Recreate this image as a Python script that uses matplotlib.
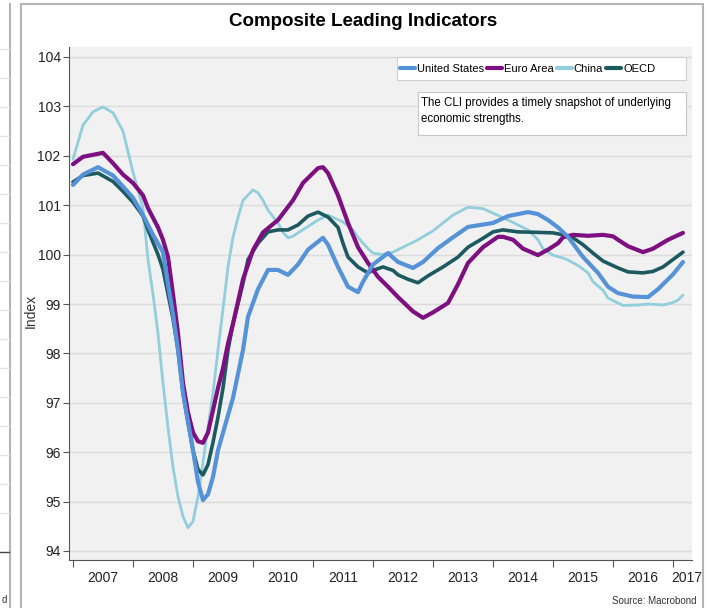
import matplotlib
matplotlib.use('Agg')
import matplotlib.pyplot as plt
from matplotlib.lines import Line2D
from matplotlib.patches import Rectangle

# Composite Leading Indicators
# months are counted from January 2007
us_months = [0, 2, 5, 8, 10, 12, 14, 16, 18, 19, 20, 21, 22, 24, 25, 26, 27, 28, 29, 32,
             34, 35, 37, 39, 41, 43, 45, 47, 50, 51, 53, 55, 57, 58, 60, 63, 65, 68, 70, 73,
             76, 79, 84, 87, 91, 93, 95, 97, 99, 102, 105, 107, 109, 112, 115, 117, 120, 122]
us_values = [101.41, 101.62, 101.77, 101.60, 101.38, 101.15, 100.80, 100.40, 100.05, 99.40,
             98.80, 98.07, 97.20, 96.04, 95.40, 95.03, 95.15, 95.50, 96.04, 97.10,
             98.07, 98.74, 99.30, 99.69, 99.69, 99.59, 99.80, 100.10, 100.34, 100.20,
             99.75, 99.35, 99.24, 99.45, 99.80, 100.03, 99.85, 99.73, 99.85, 100.13,
             100.35, 100.56, 100.64, 100.78, 100.86, 100.82, 100.70, 100.55, 100.36, 99.95,
             99.63, 99.35, 99.22, 99.15, 99.14, 99.30, 99.60, 99.85]

euro_months = [0, 2, 6, 8, 10, 12, 14, 15, 17, 18, 19, 20, 21, 22, 23, 24, 25, 26, 27, 28, 29,
               30, 31, 32, 34, 36, 38, 41, 44, 46, 49, 50, 51, 53, 55, 57, 59, 61, 63, 65, 68,
               70, 72, 75, 77, 79, 82, 85, 86, 88, 90, 93, 95, 97, 98, 100, 103, 106, 108, 109,
               111, 114, 116, 119, 122]
euro_values = [101.83, 101.98, 102.06, 101.85, 101.62, 101.45, 101.20, 100.94, 100.55, 100.30,
               99.95, 99.20, 98.40, 97.40, 96.80, 96.40, 96.22, 96.19, 96.40, 96.85, 97.30,
               97.70, 98.20, 98.60, 99.50, 100.09, 100.45, 100.70, 101.10, 101.45, 101.75,
               101.77, 101.65, 101.20, 100.64, 100.15, 99.83, 99.55, 99.35, 99.14, 98.85,
               98.72, 98.83, 99.02, 99.40, 99.83, 100.15, 100.36, 100.36, 100.30, 100.12,
               99.99, 100.10, 100.23, 100.35, 100.40, 100.38, 100.40, 100.37, 100.30,
               100.17, 100.05, 100.12, 100.30, 100.44]

china_months = [0, 2, 4, 6, 8, 10, 12, 14, 15, 16, 17, 18, 19, 20, 21, 22, 23, 24, 25, 26,
                27, 28, 29, 30, 31, 32, 33, 34, 36, 37, 38, 39, 41, 42, 43, 44, 45, 47, 49, 51,
                54, 56, 57, 59, 60, 62, 64, 66, 69, 72, 74, 76, 79, 82, 84, 87, 91, 93, 94, 96,
                98, 99, 101, 103, 104, 106, 107, 109, 110, 113, 115, 118, 120, 121, 122]
china_values = [101.93, 102.62, 102.89, 102.99, 102.87, 102.50, 101.67, 100.94, 99.90, 99.20,
                98.40, 97.40, 96.50, 95.70, 95.10, 94.70, 94.47, 94.60, 95.10, 95.80,
                96.50, 97.20, 98.07, 98.90, 99.75, 100.35, 100.75, 101.10, 101.31, 101.25,
                101.10, 100.90, 100.64, 100.45, 100.34, 100.37, 100.44, 100.57, 100.70, 100.80,
                100.66, 100.50, 100.35, 100.12, 100.03, 100.00, 100.05, 100.15, 100.30, 100.48,
                100.64, 100.80, 100.96, 100.93, 100.84, 100.70, 100.50, 100.30, 100.12, 99.99,
                99.93, 99.89, 99.78, 99.63, 99.45, 99.28, 99.12, 99.02, 98.97, 98.98,
                99.00, 98.98, 99.03, 99.08, 99.18]

oecd_months = [0, 2, 5, 8, 10, 12, 14, 15, 17, 18, 19, 20, 21, 22, 23, 24, 25, 26, 27, 28,
               29, 30, 31, 32, 34, 35, 37, 39, 41, 43, 45, 47, 49, 51, 53, 54, 55, 57, 59, 60,
               62, 64, 65, 67, 69, 71, 74, 77, 79, 82, 84, 86, 89, 93, 96, 98, 100, 102, 104,
               106, 109, 111, 114, 116, 118, 120, 122]
oecd_values = [101.47, 101.60, 101.65, 101.48, 101.28, 101.06, 100.78, 100.50, 100.00, 99.70,
               99.20, 98.70, 98.07, 97.20, 96.60, 96.04, 95.65, 95.54, 95.75, 96.20,
               96.71, 97.30, 98.07, 98.60, 99.42, 99.90, 100.23, 100.46, 100.50, 100.50,
               100.60, 100.78, 100.86, 100.76, 100.55, 100.23, 99.95, 99.75, 99.63, 99.68,
               99.75, 99.68, 99.59, 99.50, 99.43, 99.57, 99.75, 99.95, 100.15, 100.33,
               100.46, 100.50, 100.46, 100.45, 100.44, 100.40, 100.34, 100.20, 100.03,
               99.87, 99.73, 99.65, 99.63, 99.66, 99.75, 99.90, 100.05]

years = list(range(2007, 2018))
year_labels = [str(y) for y in years]
y_ticks = list(range(94, 105))

series = [
    ('China', china_months, china_values, '#92cedb', 2.0),
    ('OECD', oecd_months, oecd_values, '#1d5a60', 2.6),
    ('Euro Area', euro_months, euro_values, '#7e0f80', 3.0),
    ('United States', us_months, us_values, '#5592d8', 3.0),
]
legend_order = ['United States', 'Euro Area', 'China', 'OECD']

plt.rcParams['font.family'] = ['Liberation Sans', 'DejaVu Sans']

fig = plt.figure(figsize=(7.15, 6.08), dpi=100)

# panel frames (main chart and a sliver of the neighbouring panel)
fig.add_artist(Rectangle((21 / 715, -0.01), 682 / 715, 1 - 4 / 608 + 0.01, transform=fig.transFigure,
                         facecolor='white', edgecolor='#b5b5b5', lw=1.5, zorder=-5))
fig.add_artist(Line2D([10 / 715, 10 / 715], [0, 1 - 4 / 608], transform=fig.transFigure,
                      color='#b5b5b5', lw=1.5, zorder=-5))
for yy in range(49, 540, 29):
    fig.add_artist(Line2D([0, 9 / 715], [1 - yy / 608] * 2, transform=fig.transFigure,
                          color='#e4e4e4', lw=1, zorder=-5))
fig.add_artist(Line2D([0, 9 / 715], [1 - 552 / 608] * 2, transform=fig.transFigure,
                      color='#444444', lw=1, zorder=-5))
fig.text(4 / 715, 1 - 600 / 608, 'd', fontsize=7, ha='center', va='center', color='#333333')

ax = fig.add_axes([69 / 715, 48 / 608, 623 / 715, 513 / 608])
ax.set_facecolor('#f1f1f1')

lines = {}
for name, months, values, color, lw in series:
    dates = [2007 + m / 12 for m in months]
    lines[name], = ax.plot(dates, values, color=color, lw=lw, label=name,
                           solid_joinstyle='round', solid_capstyle='round')

ax.set_xlim(2007 - 4 / 60, 2017 + 19 / 60)
ax.set_ylim(94 - 9 / 49.4, 104 + 10 / 49.4)

ax.set_yticks(y_ticks)
ax.set_yticklabels([str(v) for v in y_ticks], fontsize=10, color='#222222')
ax.set_xticks(years)
ax.set_xticklabels([])
ax.set_xticks([y + 0.5 for y in years[:-1]] + [2017.23], minor=True)
ax.set_xticklabels(year_labels, minor=True, fontsize=10, color='#222222')
ax.tick_params(axis='x', which='major', length=5, color='#555555', direction='out')
ax.tick_params(axis='x', which='minor', length=0, pad=8)
ax.tick_params(axis='y', length=4, color='#555555', pad=2)
ax.grid(axis='y', color='#dcdcdc', lw=1)
ax.set_axisbelow(True)
for side in ['top', 'right']:
    ax.spines[side].set_visible(False)
for side in ['left', 'bottom']:
    ax.spines[side].set_color('#555555')

ax.set_ylabel('Index', fontsize=10, color='#333333')
ax.yaxis.set_label_coords(-0.05, 0.485)

fig.text(363 / 715, 1 - 22 / 608, 'Composite Leading Indicators', fontsize=13.5, fontweight='bold',
         ha='center', va='center')

# legend box, then the legend itself without a frame
fig.add_artist(Rectangle((397 / 715, 1 - 80 / 608), 289 / 715, 23 / 608, transform=fig.transFigure,
                         facecolor='white', edgecolor='#d0d0d0', lw=0.8, zorder=4))
leg = fig.legend([lines[n] for n in legend_order], legend_order, ncol=4, fontsize=8,
                 loc='center left', bbox_to_anchor=(398 / 715, 1 - 68.5 / 608),
                 handlelength=1.35, handletextpad=0.15, columnspacing=0.3, borderpad=0.2,
                 frameon=False, borderaxespad=0)
for h in leg.legend_handles:
    h.set_linewidth(3)
leg.set_zorder(6)

fig.add_artist(Rectangle((418 / 715, 1 - 135 / 608), 268 / 715, 43 / 608, transform=fig.transFigure,
                         facecolor='white', edgecolor='#c8c8c8', lw=0.8, zorder=4))
fig.text(421 / 715, 1 - 97 / 608, 'The CLI provides a timely snapshot of underlying\neconomic strengths.',
         fontsize=8.3, ha='left', va='top', linespacing=1.45, zorder=6)

fig.text(697 / 715, 1 - 601 / 608, 'Source: Macrobond', fontsize=7, ha='right', va='center', color='#333333')

fig.savefig('out.png', dpi=100)
